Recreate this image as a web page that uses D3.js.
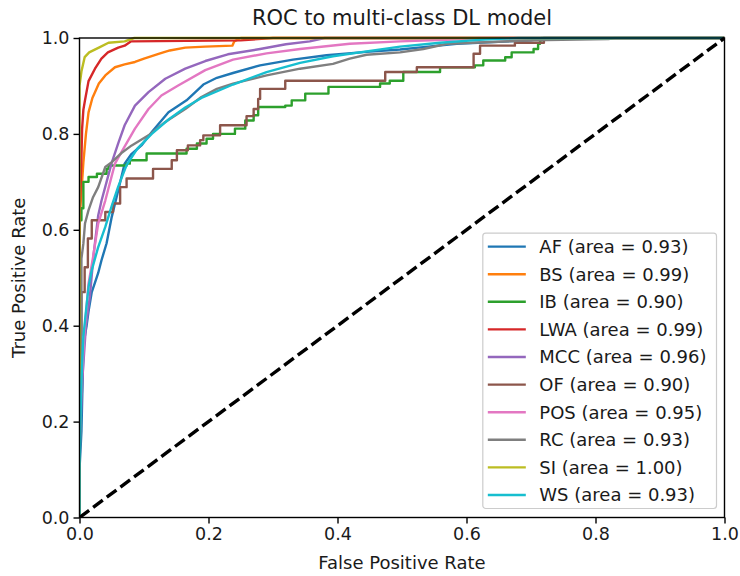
<!DOCTYPE html>
<html lang="en">
<head>
  <meta charset="UTF-8">
  <title>ROC to multi-class DL model</title>
  <script src="https://d3js.org/d3.v7.min.js"></script>
  <style>
    body {
      margin: 0;
      padding: 0;
      background: #fff;
    }

    svg text {
      font-family: "DejaVu Sans", sans-serif;
      fill: #1a1a1a;
    }
  </style>
</head>
<body>
  <svg id="chart"></svg>
  <script>
    // class names and their AUC values as shown in the legend
    const classNames = ["AF", "BS", "IB", "LWA", "MCC", "OF", "POS", "RC", "SI", "WS"];
    const aucValues = [0.93, 0.99, 0.90, 0.99, 0.96, 0.90, 0.95, 0.93, 1.00, 0.93];
    const axisTicks = [0.0, 0.2, 0.4, 0.6, 0.8, 1.0];

    // ROC points [fpr, tpr]
    const rocAF = [[0, 0], [0, 0.1], [0.003, 0.18], [0.006, 0.356], [0.0085, 0.38], [0.011, 0.40], [0.014, 0.43],
      [0.019, 0.47], [0.024, 0.49], [0.029, 0.51], [0.034, 0.536], [0.042, 0.572], [0.05, 0.627], [0.06, 0.682],
      [0.07, 0.738], [0.08, 0.757], [0.096, 0.776], [0.114, 0.807], [0.138, 0.845], [0.166, 0.870], [0.192, 0.903],
      [0.213, 0.917], [0.238, 0.927], [0.28, 0.943], [0.331, 0.955], [0.383, 0.964], [0.445, 0.971], [0.497, 0.976],
      [0.533, 0.981], [0.585, 0.988], [0.65, 0.992], [0.70, 0.995], [0.72, 1.0], [1, 1]];
    const rocBS = [[0, 0], [0, 0.62], [0.004, 0.70], [0.006, 0.74], [0.01, 0.80], [0.014, 0.845], [0.02, 0.875],
      [0.024, 0.887], [0.03, 0.905], [0.04, 0.922], [0.055, 0.939], [0.07, 0.945], [0.086, 0.95], [0.1, 0.957],
      [0.125, 0.968], [0.14, 0.974], [0.164, 0.980], [0.195, 0.982], [0.237, 0.984], [0.24, 0.993], [0.25, 1.0], [1, 1]];
    const rocIB = [[0, 0], [0, 0.62], [0.003, 0.645], [0.006, 0.70], [0.014, 0.71], [0.027, 0.717], [0.042, 0.727],
      [0.045, 0.734], [0.073, 0.738], [0.078, 0.745], [0.104, 0.759], [0.166, 0.769], [0.182, 0.78], [0.197, 0.79],
      [0.207, 0.80], [0.241, 0.811], [0.257, 0.828], [0.27, 0.839], [0.277, 0.856], [0.319, 0.859], [0.329, 0.870],
      [0.35, 0.884], [0.386, 0.898], [0.466, 0.905], [0.481, 0.911], [0.502, 0.929], [0.559, 0.939], [0.613, 0.943],
      [0.626, 0.953], [0.66, 0.96], [0.67, 0.97], [0.704, 0.977], [0.711, 0.988], [0.714, 0.995], [0.716, 1.0], [1, 1]];
    const rocLWA = [[0, 0], [0, 0.62], [0.003, 0.75], [0.004, 0.81], [0.006, 0.85], [0.0085, 0.87], [0.014, 0.91],
      [0.024, 0.936], [0.034, 0.957], [0.044, 0.97], [0.06, 0.98], [0.07, 0.984], [0.08, 0.993], [0.25, 0.995],
      [0.3, 1.0], [1, 1]];
    const rocMCC = [[0, 0], [0, 0.15], [0.005, 0.3], [0.01, 0.4], [0.016, 0.46], [0.022, 0.55], [0.029, 0.63],
      [0.034, 0.66], [0.042, 0.70], [0.05, 0.74], [0.06, 0.78], [0.07, 0.818], [0.086, 0.859], [0.107, 0.887],
      [0.133, 0.915], [0.164, 0.936], [0.195, 0.952], [0.23, 0.966], [0.28, 0.977], [0.32, 0.987], [0.357, 0.993],
      [0.38, 1.0], [1, 1]];
    const rocOF = [[0, 0], [0, 0.38], [0.003, 0.47], [0.008, 0.522], [0.013, 0.582], [0.019, 0.62], [0.04, 0.637],
      [0.052, 0.655], [0.063, 0.689], [0.073, 0.707], [0.114, 0.727], [0.143, 0.745], [0.151, 0.766], [0.168, 0.776],
      [0.187, 0.787], [0.192, 0.797], [0.218, 0.818], [0.259, 0.837], [0.27, 0.852], [0.277, 0.873], [0.28, 0.894],
      [0.319, 0.911], [0.474, 0.929], [0.523, 0.939], [0.611, 0.967], [0.621, 0.984], [0.675, 0.99], [0.72, 1.0], [1, 1]];
    const rocPOS = [[0, 0], [0, 0.2], [0.004, 0.3], [0.0085, 0.40], [0.014, 0.488], [0.021, 0.543], [0.029, 0.613],
      [0.04, 0.661], [0.055, 0.738], [0.065, 0.762], [0.086, 0.811], [0.107, 0.852], [0.127, 0.88], [0.153, 0.901],
      [0.195, 0.933], [0.238, 0.955], [0.29, 0.968], [0.342, 0.977], [0.419, 0.988], [0.497, 0.993], [0.58, 0.997],
      [0.62, 1.0], [1, 1]];
    const rocRC = [[0, 0], [0, 0.1], [0.003, 0.3], [0.003, 0.54], [0.006, 0.571], [0.0085, 0.613], [0.014, 0.641],
      [0.021, 0.668], [0.029, 0.689], [0.04, 0.731], [0.05, 0.741], [0.065, 0.76], [0.081, 0.776], [0.107, 0.797],
      [0.133, 0.825], [0.164, 0.852], [0.189, 0.877], [0.213, 0.894], [0.238, 0.905], [0.29, 0.922], [0.342, 0.936],
      [0.393, 0.946], [0.419, 0.957], [0.445, 0.965], [0.497, 0.97], [0.533, 0.977], [0.57, 0.988], [0.70, 0.995],
      [0.82, 0.998], [0.83, 1.0], [1, 1]];
    const rocSI = [[0, 0], [0, 0.90], [0.003, 0.93], [0.008, 0.96], [0.015, 0.97], [0.03, 0.98], [0.045, 0.99],
      [0.07, 0.993], [0.085, 1.0], [1, 1]];
    const rocWS = [[0, 0], [0, 0.1], [0.001, 0.18], [0.003, 0.286], [0.006, 0.377], [0.01, 0.43], [0.014, 0.481],
      [0.019, 0.516], [0.029, 0.564], [0.04, 0.606], [0.05, 0.650], [0.06, 0.69], [0.073, 0.735], [0.09, 0.77],
      [0.112, 0.80], [0.138, 0.83], [0.164, 0.855], [0.189, 0.875], [0.238, 0.903], [0.29, 0.929], [0.342, 0.948],
      [0.393, 0.962], [0.445, 0.972], [0.497, 0.982], [0.559, 0.99], [0.62, 0.996], [0.68, 1.0], [1, 1]];

    const rocCurves = [rocAF, rocBS, rocIB, rocLWA, rocMCC, rocOF, rocPOS, rocRC, rocSI, rocWS];
    // these two come out as visible staircases
    const stepped = ["IB", "OF"];

    const width = 740;
    const height = 576;
    const margin = { top: 38, right: 15.5, bottom: 58.5, left: 79.5 };
    const fontSize = 18;

    const svg = d3.select("#chart")
      .attr("width", width)
      .attr("height", height);

    const x = d3.scaleLinear().domain([0, 1]).range([margin.left, width - margin.right]);
    const y = d3.scaleLinear().domain([0, 1]).range([height - margin.bottom, margin.top]);
    const color = d3.scaleOrdinal(classNames, d3.schemeCategory10);

    svg.append("defs").append("clipPath")
      .attr("id", "plot-clip")
      .append("rect")
      .attr("x", x(0))
      .attr("y", y(1) - 2)
      .attr("width", x(1) - x(0))
      .attr("height", y(0) - y(1) + 2);

    const plot = svg.append("g").attr("clip-path", "url(#plot-clip)");

    rocCurves.forEach((pts, i) => {
      const name = classNames[i];
      const line = d3.line()
        .x(d => x(d[0]))
        .y(d => y(d[1]))
        .curve(stepped.includes(name) ? d3.curveStepAfter : d3.curveLinear);
      plot.append("path")
        .datum(pts)
        .attr("fill", "none")
        .attr("stroke", color(name))
        .attr("stroke-width", 2.4)
        .attr("stroke-linejoin", "round")
        .attr("d", line);
    });

    // chance line
    plot.append("path")
      .datum([[0, 0], [1, 1]])
      .attr("fill", "none")
      .attr("stroke", "#000")
      .attr("stroke-width", 3.4)
      .attr("stroke-dasharray", "12,5")
      .attr("d", d3.line().x(d => x(d[0])).y(d => y(d[1])));

    // axes
    const xAxis = svg.append("g")
      .attr("transform", `translate(0,${y(0)})`)
      .call(d3.axisBottom(x).tickValues(axisTicks).tickFormat(d3.format(".1f")).tickSize(6).tickPadding(4));
    const yAxis = svg.append("g")
      .attr("transform", `translate(${x(0)},0)`)
      .call(d3.axisLeft(y).tickValues(axisTicks).tickFormat(d3.format(".1f")).tickSize(6).tickPadding(4));

    [xAxis, yAxis].forEach(ax => {
      ax.select(".domain").remove();
      ax.selectAll(".tick line").attr("stroke", "#000").attr("stroke-width", 1.4);
      ax.selectAll(".tick text")
        .attr("font-size", 17.5)
        .attr("font-family", "DejaVu Sans")
        .attr("fill", "#1a1a1a");
    });

    // frame
    svg.append("rect")
      .attr("x", x(0))
      .attr("y", y(1))
      .attr("width", x(1) - x(0))
      .attr("height", y(0) - y(1))
      .attr("fill", "none")
      .attr("stroke", "#000")
      .attr("stroke-width", 1.4);

    svg.append("text")
      .attr("x", (x(0) + x(1)) / 2)
      .attr("y", 25)
      .attr("text-anchor", "middle")
      .attr("font-size", 21)
      .text("ROC to multi-class DL model");

    svg.append("text")
      .attr("x", (x(0) + x(1)) / 2)
      .attr("y", 569)
      .attr("text-anchor", "middle")
      .attr("font-size", fontSize)
      .text("False Positive Rate");

    svg.append("text")
      .attr("transform", `translate(25,${(y(0) + y(1)) / 2}) rotate(-90)`)
      .attr("text-anchor", "middle")
      .attr("font-size", fontSize)
      .text("True Positive Rate");

    // legend, lower right
    const rowH = 27.6;
    const pad = 9;
    const legend = svg.append("g");
    const box = legend.append("rect")
      .attr("fill", "#fff")
      .attr("fill-opacity", 0.8)
      .attr("stroke", "#cccccc")
      .attr("stroke-width", 1.2)
      .attr("rx", 3);

    const rows = legend.selectAll("g.row")
      .data(classNames)
      .join("g")
      .attr("class", "row")
      .attr("transform", (d, i) => `translate(0,${i * rowH})`);

    rows.append("line")
      .attr("x1", 5).attr("x2", 43)
      .attr("y1", 0).attr("y2", 0)
      .attr("stroke", d => color(d))
      .attr("stroke-width", 2.4);

    rows.append("text")
      .attr("x", 56.5)
      .attr("dy", "0.35em")
      .attr("font-size", fontSize)
      .text((d, i) => `${d} (area = ${aucValues[i].toFixed(2)})`);

    let maxW = 0;
    rows.selectAll("text").each(function () { maxW = Math.max(maxW, this.getComputedTextLength()); });
    const boxW = 56.5 + maxW + 10;
    const boxH = rowH * (classNames.length - 1) + 2 * 13.5;
    box.attr("x", 0).attr("y", -13.5).attr("width", boxW).attr("height", boxH);

    const lx = x(1) - 8 - boxW;
    const ly = y(0) - pad - boxH + 13.5;
    legend.attr("transform", `translate(${lx},${ly})`);
  </script>
</body>
</html>
